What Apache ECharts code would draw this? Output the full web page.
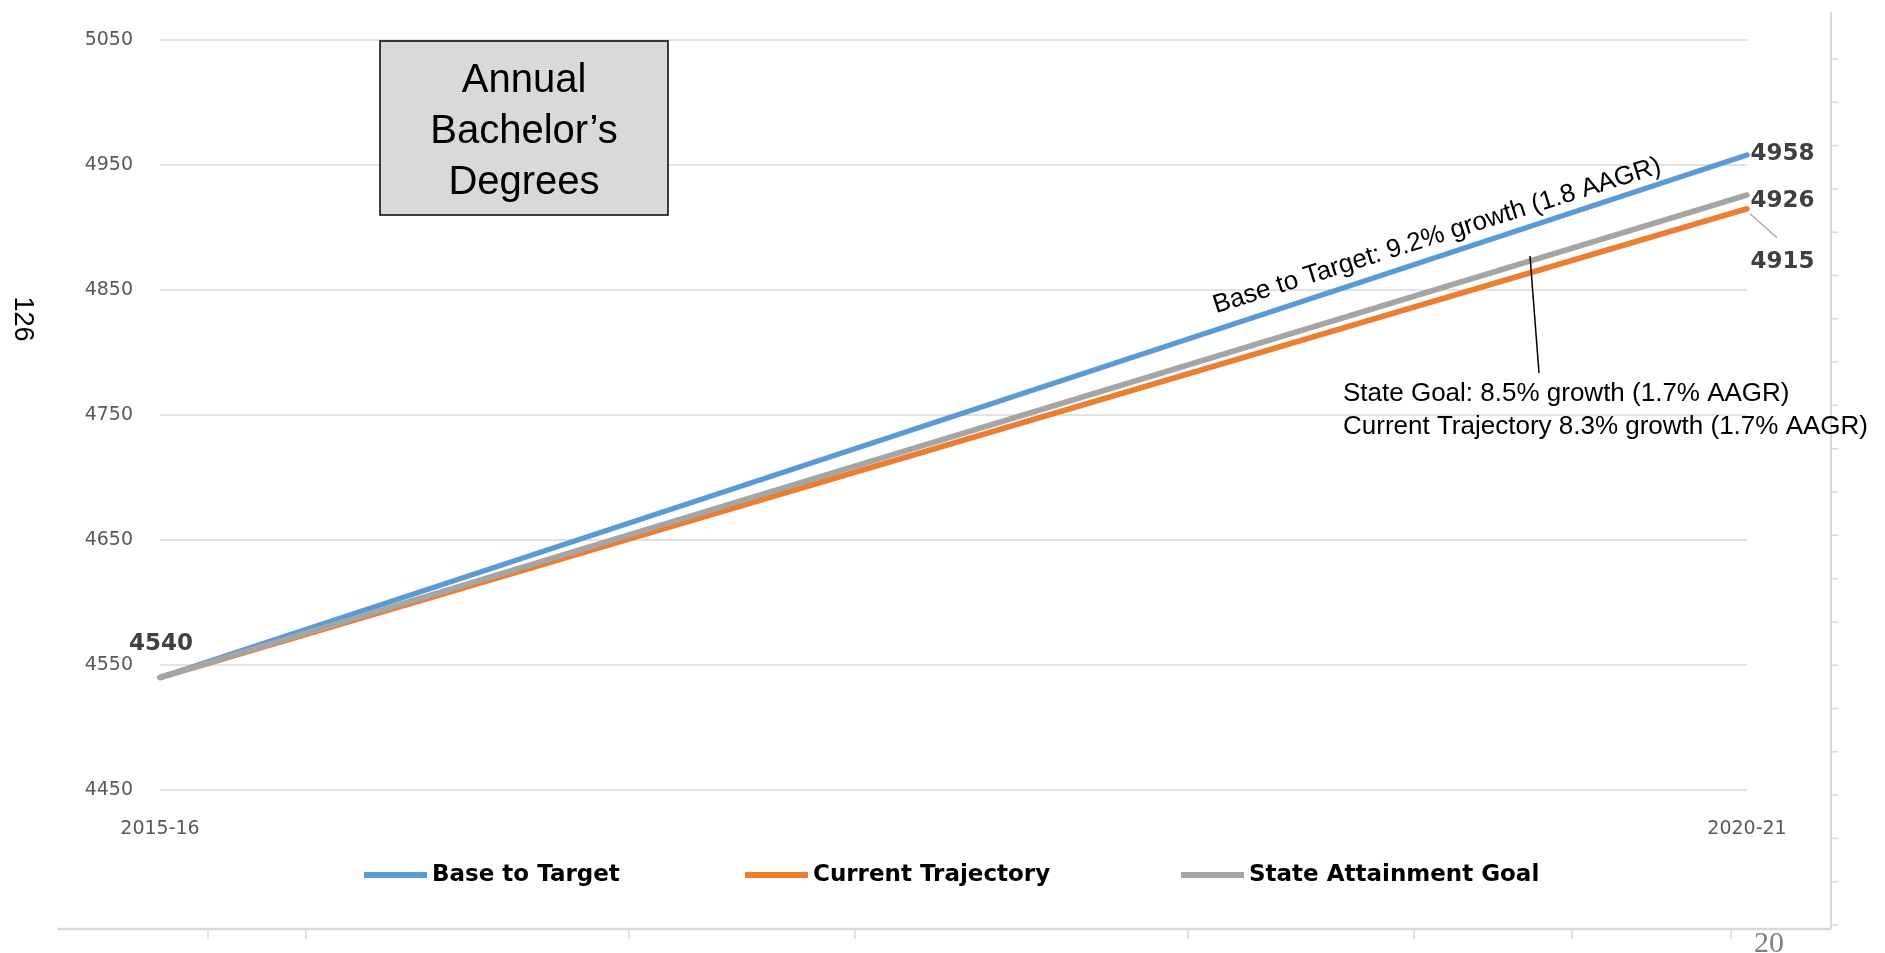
<!DOCTYPE html>
<html>
<head>
<meta charset="utf-8">
<script src="https://cdn.jsdelivr.net/npm/echarts@6/dist/echarts.min.js"></script>
<style>
html,body{margin:0;padding:0;background:#fff;}
#chart{width:1885px;height:953px;}
</style>
</head>
<body>
<div id="chart"></div>
<script>
// ---- data ----
const categories = ['2015-16', '2020-21'];
const seriesNames = ['Base to Target', 'Current Trajectory', 'State Attainment Goal'];
const baseToTarget = [4540, 4958];
const currentTrajectory = [4540, 4915];
const stateAttainmentGoal = [4540, 4926];
const yMin = 4450, yMax = 5050, yInterval = 100;
const titleLines = ['Annual', 'Bachelor\u2019s', 'Degrees'];
const noteBase = 'Base to Target: 9.2% growth (1.8 AAGR)';
const noteState = 'State Goal: 8.5% growth (1.7% AAGR)';
const noteCurrent = 'Current Trajectory 8.3% growth (1.7% AAGR)';
const sideText = '126';
const pageText = '20';

const colors = ['#5B9BD5', '#ED7D31', '#A5A5A5'];
const labelStyle = {
  show: true, fontFamily: 'DejaVu Sans', fontWeight: 'bold', fontSize: 23, color: '#404040'
};

function makeData(values, labelCfg) {
  return values.map((v, i) => {
    const item = { value: v };
    if (labelCfg[i]) item.label = Object.assign({}, labelStyle, labelCfg[i]);
    return item;
  });
}

const chart = echarts.init(document.getElementById('chart'), null, { renderer: 'canvas' });

const lineSeries = (name, values, color, labelCfg, z) => ({
  name: name,
  type: 'line',
  data: makeData(values, labelCfg),
  symbol: 'circle',
  symbolSize: 1,
  showSymbol: true,
  z: z,
  lineStyle: { color: color, width: 5.5, cap: 'round' },
  itemStyle: { color: color },
  label: { show: false },
  emphasis: { disabled: true },
  animation: false
});

const legendCommon = {
  orient: 'horizontal', top: 863, padding: 0, icon: 'rect',
  itemWidth: 63, itemHeight: 6, selectedMode: false,
  textStyle: { fontFamily: 'DejaVu Sans', fontWeight: 'bold', fontSize: 23, color: '#000', lineHeight: 24 }
};

chart.setOption({
  backgroundColor: '#fff',
  animation: false,
  color: colors,
  grid: { left: 160, right: 138, top: 40, bottom: 163, containLabel: false },
  xAxis: {
    type: 'category', data: categories, boundaryGap: false,
    axisLine: { show: false }, axisTick: { show: false },
    axisLabel: { fontFamily: 'DejaVu Sans', fontSize: 19, color: '#595959', margin: 30 }
  },
  yAxis: {
    type: 'value', min: yMin, max: yMax, interval: yInterval,
    axisLine: { show: false }, axisTick: { show: false },
    axisLabel: { fontFamily: 'DejaVu Sans', fontSize: 19, color: '#595959', margin: 27, formatter: v => String(v) },
    splitLine: { lineStyle: { color: '#d9d9d9', width: 1.5 } }
  },
  legend: [
    Object.assign({}, legendCommon, { left: 364, data: [seriesNames[0]] }),
    Object.assign({}, legendCommon, { left: 745, data: [seriesNames[1]] }),
    Object.assign({}, legendCommon, { left: 1181, data: [seriesNames[2]] })
  ],
  series: [
    lineSeries(seriesNames[0], baseToTarget, colors[0], [null, { position: 'right', distance: 3, offset: [0, -1] }], 2),
    lineSeries(seriesNames[1], currentTrajectory, colors[1], [null, { position: 'right', distance: 3, offset: [0, 53] }], 3),
    lineSeries(seriesNames[2], stateAttainmentGoal, colors[2], [{ position: 'top', distance: 21, offset: [1, 0] }, { position: 'right', distance: 3, offset: [0, 6] }], 4)
  ]
});

// ---- annotations / decorations ----
const pEnd = chart.convertToPixel({ seriesIndex: 1 }, [1, currentTrajectory[1]]);
const elements = [];

// title box
elements.push({
  type: 'rect', shape: { x: 380, y: 41, width: 288, height: 174 },
  style: { fill: '#d9d9d9', stroke: '#000', lineWidth: 1.5 }, z: 10
});
titleLines.forEach((t, i) => {
  elements.push({
    type: 'text', x: 524, y: 81 + i * 51, z: 11,
    style: { text: t, fontFamily: 'Liberation Sans', fontSize: 40, fill: '#000', align: 'center', verticalAlign: 'middle' }
  });
});

// rotated base note
elements.push({
  type: 'text', x: 1437, y: 236, rotation: 17.5 * Math.PI / 180, z: 11,
  style: { text: noteBase, fontFamily: 'Liberation Sans', fontSize: 26, fill: '#000', align: 'center', verticalAlign: 'middle' }
});

// pointer line and notes
elements.push({
  type: 'line', shape: { x1: 1530, y1: 256, x2: 1539, y2: 373 },
  style: { stroke: '#000', lineWidth: 1.5 }, z: 11
});
elements.push({
  type: 'text', x: 1343, y: 394, z: 11,
  style: { text: noteState, fontFamily: 'Liberation Sans', fontSize: 26, fill: '#000', align: 'left', verticalAlign: 'middle' }
});
elements.push({
  type: 'text', x: 1343, y: 427, z: 11,
  style: { text: noteCurrent, fontFamily: 'Liberation Sans', fontSize: 26, fill: '#000', align: 'left', verticalAlign: 'middle' }
});

// leader line for 4915 label
elements.push({
  type: 'line', shape: { x1: pEnd[0] + 3, y1: pEnd[1] + 5, x2: pEnd[0] + 30, y2: pEnd[1] + 29 },
  style: { stroke: '#a6a6a6', lineWidth: 1.5 }, z: 11
});

// side page text
elements.push({
  type: 'text', x: 22, y: 319, rotation: -Math.PI / 2, z: 11,
  style: { text: sideText, fontFamily: 'Liberation Sans', fontSize: 27, fill: '#000', align: 'center', verticalAlign: 'middle' }
});

// outer frame (slide decoration)
elements.push({
  type: 'line', shape: { x1: 1831, y1: 12, x2: 1831, y2: 929 },
  style: { stroke: '#d9d9d9', lineWidth: 2 }, z: 1
});
elements.push({
  type: 'line', shape: { x1: 58, y1: 929, x2: 1831, y2: 929 },
  style: { stroke: '#d9d9d9', lineWidth: 2.5 }, z: 1
});
for (let k = 0; k <= 20; k++) {
  const yy = 59 + k * 43.3;
  elements.push({
    type: 'line', shape: { x1: 1831, y1: yy, x2: 1838, y2: yy },
    style: { stroke: '#d9d9d9', lineWidth: 1.5 }, z: 1
  });
}
[208, 306, 629, 855, 1188, 1414, 1572, 1731].forEach(xx => {
  elements.push({
    type: 'line', shape: { x1: xx, y1: 929, x2: xx, y2: 939 },
    style: { stroke: '#d9d9d9', lineWidth: 1.5 }, z: 1
  });
});

// page number
elements.push({
  type: 'text', x: 1769, y: 944, z: 11,
  style: { text: pageText, fontFamily: 'Liberation Serif', fontSize: 30, fill: '#7f7f7f', align: 'center', verticalAlign: 'middle' }
});

chart.setOption({ graphic: { elements: elements } });
</script>
</body>
</html>
